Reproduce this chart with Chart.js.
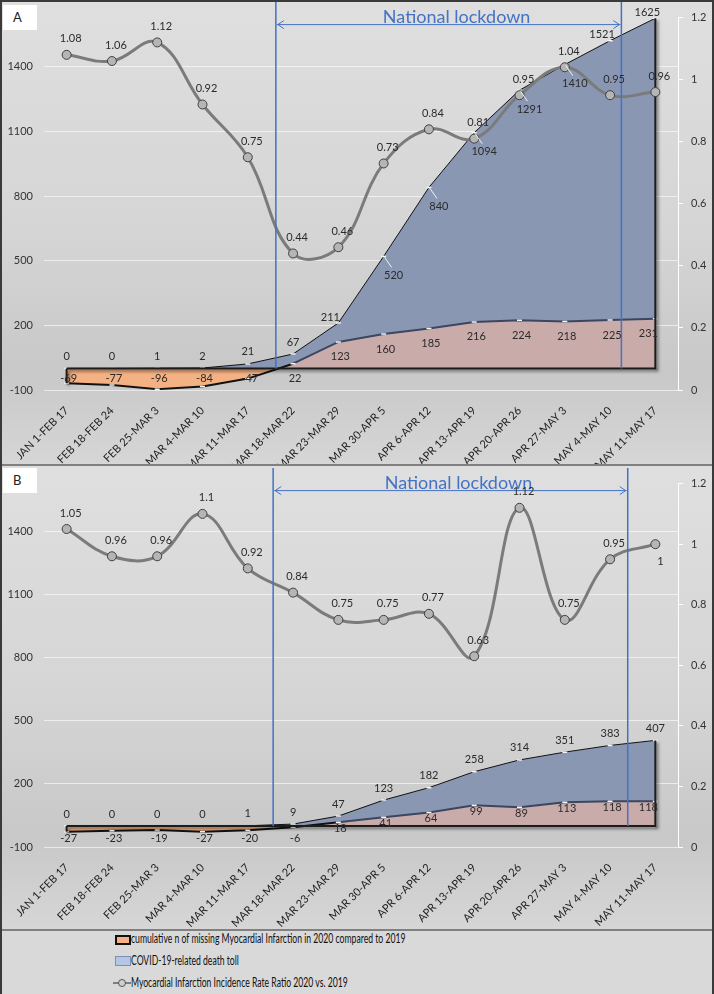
<!DOCTYPE html>
<html>
<head>
<meta charset="utf-8">
<script src="https://cdn.jsdelivr.net/npm/chart.js@4.4.1/dist/chart.umd.min.js"></script>
<style>
  body { margin: 0; background: #fff; }
  #wrap { position: relative; width: 714px; height: 994px; background: #d9d9d9; overflow: hidden; font-family: Lato, sans-serif; }
  canvas { position: absolute; left: 0; }
  #ca { top: 0; }
  #cb { top: 466px; }
  .sep { position: absolute; left: 0; width: 714px; height: 2px; background: #808080; }
  .tag { position: absolute; left: 3px; width: 34px; height: 25px; background: #fff; font-size: 13px; color: #222; line-height: 25px; text-indent: 10px; }
  #frame { position: absolute; left: 0; top: 0; width: 710px; height: 992px; border: 2px solid #3a3a3a; border-bottom: none; pointer-events: none; }
  .lrow { position: absolute; left: 0; height: 18px; width: 714px; }
  .ltxt { position: absolute; left: 131px; top: 1px; font-size: 12.5px; color: #111; white-space: nowrap; transform: scaleX(0.69); transform-origin: left center; }
</style>
</head>
<body>
<div id="wrap">
  <canvas id="ca" width="714" height="464"></canvas>
  <div class="sep" style="top:464px"></div>
  <canvas id="cb" width="714" height="463"></canvas>
  <div class="sep" style="top:929px"></div>
  <div class="tag" style="top:5px">A</div>
  <div class="tag" style="top:468px">B</div>

  <div class="lrow" style="top:930px">
    <div style="position:absolute;left:115px;top:5px;width:12px;height:6px;background:#f4b183;border:2px solid #111;"></div>
    <div class="ltxt">cumulative n of missing Myocardial Infarction in 2020 compared to 2019</div>
  </div>
  <div class="lrow" style="top:952px">
    <div style="position:absolute;left:115px;top:4px;width:14px;height:8px;background:#b4c6e7;border:1px solid #7f8fae;"></div>
    <div class="ltxt">COVID-19-related death toll</div>
  </div>
  <div class="lrow" style="top:974px">
    <div style="position:absolute;left:113px;top:8px;width:18px;height:2px;background:#7f7f7f;"></div>
    <div style="position:absolute;left:118px;top:5px;width:6px;height:6px;border-radius:50%;background:#d0d0d0;border:1px solid #555;"></div>
    <div class="ltxt">Myocardial Infarction Incidence Rate Ratio 2020 vs. 2019</div>
  </div>
  <div id="frame"></div>
</div>

<script>
// ---- data ----
const weeks = ['JAN 1-FEB 17', 'FEB 18-FEB 24', 'FEB 25-MAR 3', 'MAR 4-MAR 10', 'MAR 11-MAR 17',
  'MAR 18-MAR 22', 'MAR 23-MAR 29', 'MAR 30-APR 5', 'APR 6-APR 12', 'APR 13-APR 19',
  'APR 20-APR 26', 'APR 27-MAY 3', 'MAY 4-MAY 10', 'MAY 11-MAY 17'];

const irrA = [1.08, 1.06, 1.12, 0.92, 0.75, 0.44, 0.46, 0.73, 0.84, 0.81, 0.95, 1.04, 0.95, 0.96];
const deathsA = [0, 0, 1, 2, 21, 67, 211, 520, 840, 1094, 1291, 1410, 1521, 1625];
const missingA = [-69, -77, -96, -84, -47, 22, 123, 160, 185, 216, 224, 218, 225, 231];

const irrB = [1.05, 0.96, 0.96, 1.1, 0.92, 0.84, 0.75, 0.75, 0.77, 0.63, 1.12, 0.75, 0.95, 1];
const deathsB = [0, 0, 0, 0, 1, 9, 47, 123, 182, 258, 314, 351, 383, 407];
const missingB = [-27, -23, -19, -27, -20, -6, 18, 41, 64, 99, 89, 113, 118, 118];

const leftTicks = [-100, 200, 500, 800, 1100, 1400];
const leftMin = -100, leftMax = 1628;
const rightMin = 0, rightMax = 1.2, rightStep = 0.2;

// lockdown start / end, as position on the week axis
const lockdownA = [4.62, 12.25];
const lockdownB = [4.56, 12.39];

// where the death toll labels sit: a = above, al = above-left, br = below-right
const deathPosA = ['a', 'a', 'a', 'a', 'a', 'a', 'al', 'br', 'br', 'br', 'br', 'br', 'al', 'al'];
const deathPosB = ['a', 'a', 'a', 'a', 'a', 'a', 'a', 'a', 'a', 'a', 'a', 'a', 'a', 'a'];

const BLUE = '#8a97b3';
const PINK = '#c9abaa';
const ORANGE = '#f4b183';
const LOCK = '#4472c4';

Chart.defaults.font.family = 'Lato';
Chart.defaults.font.size = 11;
Chart.defaults.color = '#333';

function makePanel(id, cfg) {
  const n = weeks.length;

  /* background */
  const bgPlugin = {
    id: 'bg',
    beforeDraw(chart) {
      const { ctx, width, height } = chart;
      const g = ctx.createLinearGradient(0, 0, 0, height);
      g.addColorStop(0, '#dfdfdf');
      g.addColorStop(0.5, '#d5d5d5');
      g.addColorStop(0.8, '#c8c8c8');
      g.addColorStop(1, '#d6d6d6');
      ctx.save();
      ctx.fillStyle = g;
      ctx.fillRect(0, 0, width, height);
      ctx.restore();
    }
  };

  /* shadowed outline around the area block */
  const outlinePlugin = {
    id: 'outline',
    afterDatasetDraw(chart, args) {
      if (args.index !== 1) return;
      const ctx = chart.ctx, x = chart.scales.x, yL = chart.scales.yL;
      const y0 = yL.getPixelForValue(0);
      const x0 = x.getPixelForValue(0), xn = x.getPixelForValue(n - 1);
      ctx.save();
      ctx.shadowColor = 'rgba(0,0,0,0.55)';
      ctx.shadowOffsetX = 2;
      ctx.shadowOffsetY = 2;
      ctx.shadowBlur = 3;
      ctx.strokeStyle = '#1c1c1c';
      ctx.lineWidth = 2;
      ctx.beginPath();
      ctx.moveTo(x0, y0);
      ctx.lineTo(x0, yL.getPixelForValue(cfg.missing[0]));
      ctx.moveTo(x0, y0);
      ctx.lineTo(xn, y0);
      ctx.lineTo(xn, yL.getPixelForValue(cfg.deaths[n - 1]));
      ctx.stroke();
      ctx.restore();
    }
  };

  /* lockdown markers + data labels */
  const overlayPlugin = {
    id: 'overlay',
    afterDatasetsDraw(chart) {
      const ctx = chart.ctx, x = chart.scales.x, yL = chart.scales.yL;
      const area = chart.chartArea;
      const y0 = yL.getPixelForValue(0);
      const xa = x.getPixelForValue(cfg.lockdown[0]);
      const xb = x.getPixelForValue(cfg.lockdown[1]);
      const ay = area.top + 7;

      ctx.save();
      ctx.strokeStyle = LOCK;
      ctx.lineWidth = 1.5;
      ctx.beginPath();
      ctx.moveTo(xa, 2); ctx.lineTo(xa, y0);
      ctx.moveTo(xb, 2); ctx.lineTo(xb, y0);
      ctx.stroke();
      ctx.lineWidth = 1;
      ctx.beginPath();
      ctx.moveTo(xa + 1, ay); ctx.lineTo(xb - 1, ay);
      ctx.moveTo(xa + 8, ay - 4); ctx.lineTo(xa + 2, ay); ctx.lineTo(xa + 8, ay + 4);
      ctx.moveTo(xb - 8, ay - 4); ctx.lineTo(xb - 2, ay); ctx.lineTo(xb - 8, ay + 4);
      ctx.stroke();
      ctx.fillStyle = LOCK;
      ctx.font = '18px Lato';
      ctx.textAlign = 'center';
      ctx.textBaseline = 'alphabetic';
      ctx.fillText('National lockdown', (xa + xb) / 2 + 8, ay - 2);
      ctx.restore();

      ctx.save();
      ctx.font = '11px Lato';
      ctx.fillStyle = '#2b2b2b';
      ctx.textAlign = 'center';
      ctx.textBaseline = 'middle';

      // death toll
      chart.getDatasetMeta(2).data.forEach((pt, i) => {
        const pos = cfg.deathPos[i];
        let dx = 0, dy = -12;
        if (pos === 'al') { dx = -8; dy = -6; }
        if (pos === 'br') {
          dx = 10; dy = 19;
          ctx.save();
          ctx.strokeStyle = '#f2f2f2';
          ctx.lineWidth = 1;
          ctx.beginPath();
          ctx.moveTo(pt.x + 1, pt.y + 1);
          ctx.lineTo(pt.x + dx - 2, pt.y + dy - 8);
          ctx.stroke();
          ctx.restore();
        }
        ctx.fillText(String(cfg.deaths[i]), pt.x + dx, pt.y + dy);
      });

      // missing MI
      chart.getDatasetMeta(1).data.forEach((pt, i) => {
        const v = cfg.missing[i];
        const last = i === n - 1 ? -9 : 0;
        const y = v < 0 ? y0 + cfg.negOff : pt.y + cfg.posOff;
        ctx.fillText(String(v), pt.x + last + 2, y);
      });

      // IRR
      chart.getDatasetMeta(0).data.forEach((pt, i) => {
        const below = cfg.irrBelow.includes(i);
        ctx.fillText(String(cfg.irr[i]), pt.x + (below ? 5 : 4), pt.y + (below ? 17 : -16));
      });
      ctx.restore();
    }
  };

  return new Chart(document.getElementById(id), {
    type: 'line',
    data: {
      labels: weeks,
      datasets: [
        {
          label: 'Myocardial Infarction Incidence Rate Ratio 2020 vs. 2019',
          data: cfg.irr,
          yAxisID: 'yR',
          order: 0,
          borderColor: '#7b7b7b',
          borderWidth: 3,
          tension: 0.4,
          fill: false,
          pointRadius: 4.5,
          pointBackgroundColor: '#b5b5b5',
          pointBorderColor: '#3f3f3f',
          pointBorderWidth: 1
        },
        {
          label: 'cumulative n of missing Myocardial Infarction in 2020 compared to 2019',
          data: cfg.missing,
          yAxisID: 'yL',
          order: 1,
          fill: { target: 'origin', above: PINK, below: ORANGE },
          borderWidth: 2,
          segment: {
            borderColor: c => (c.p0.parsed.y < 0 || c.p1.parsed.y < 0) ? '#111' : '#3b4660'
          },
          pointStyle: 'line',
          pointRadius: 2.5,
          pointBorderColor: '#f5f5f5',
          pointBorderWidth: 1.5
        },
        {
          label: 'COVID-19-related death toll',
          data: cfg.deaths,
          yAxisID: 'yL',
          order: 2,
          fill: 'origin',
          backgroundColor: BLUE,
          borderColor: '#111',
          borderWidth: 1,
          pointStyle: 'line',
          pointRadius: 2.5,
          pointBorderColor: '#f5f5f5',
          pointBorderWidth: 1.5
        }
      ]
    },
    options: {
      responsive: false,
      animation: false,
      events: [],
      layout: { padding: { top: cfg.top, left: 0, right: 0, bottom: 0 } },
      plugins: { legend: { display: false }, tooltip: { enabled: false } },
      scales: {
        x: {
          offset: true,
          grid: { display: false },
          border: { display: false },
          ticks: { minRotation: 45, maxRotation: 45, autoSkip: false, padding: 6, color: '#222' },
          afterFit: s => { s.height = cfg.xh; }
        },
        yL: {
          position: 'left',
          min: leftMin,
          max: leftMax,
          afterBuildTicks: s => { s.ticks = leftTicks.map(v => ({ value: v })); },
          grid: { color: 'rgba(255,255,255,0.6)', drawTicks: false },
          border: { display: false },
          ticks: { padding: 11, callback: v => String(v) },
          afterFit: s => { s.width = 44; }
        },
        yR: {
          position: 'right',
          min: rightMin,
          max: rightMax,
          ticks: { stepSize: rightStep, padding: 8, callback: v => String(Math.round(v * 10) / 10) },
          grid: { drawOnChartArea: false, color: '#fff', tickLength: 5 },
          border: { color: '#fff', width: 1 },
          afterFit: s => { s.width = 36; }
        }
      }
    },
    plugins: [bgPlugin, outlinePlugin, overlayPlugin]
  });
}

makePanel('ca', {
  irr: irrA, deaths: deathsA, missing: missingA, lockdown: lockdownA, deathPos: deathPosA,
  top: 16, xh: 74, negOff: 10, posOff: 15, irrBelow: []
});
makePanel('cb', {
  irr: irrB, deaths: deathsB, missing: missingB, lockdown: lockdownB, deathPos: deathPosB,
  top: 13, xh: 82, negOff: 12, posOff: 6, irrBelow: [13]
});
</script>
</body>
</html>
